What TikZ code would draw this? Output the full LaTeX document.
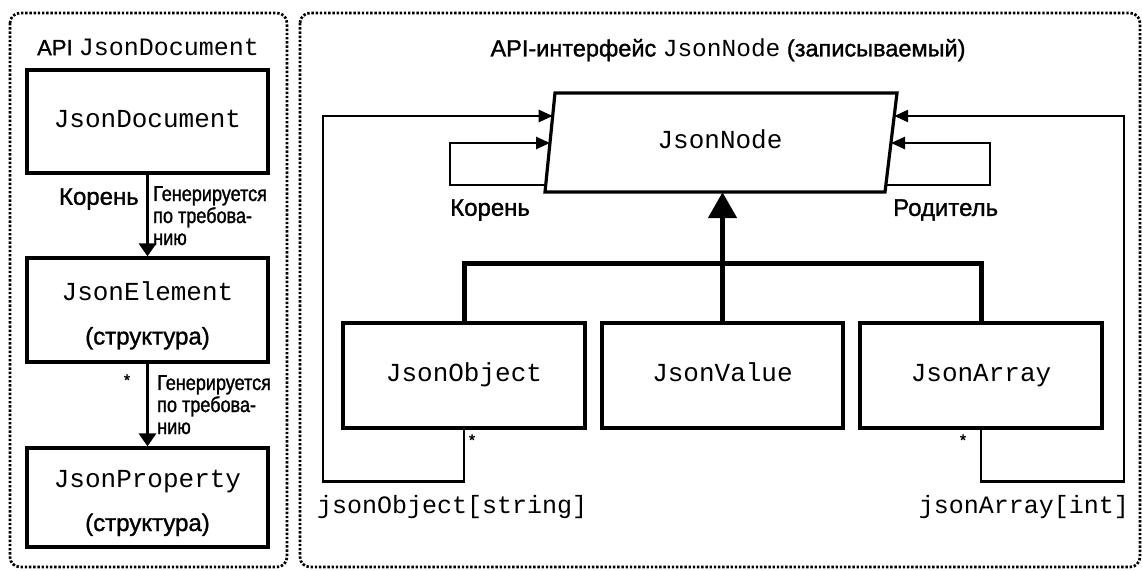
\documentclass[tikz,border=0pt]{standalone}
\usepackage{fontspec}
\setmainfont{Liberation Sans}[FakeBold=1.3]
\setsansfont{Liberation Sans}[FakeBold=1.3]
\setmonofont{Liberation Mono}
\newfontfamily\narrowsans{Liberation Sans}[FakeStretch=0.84,FakeBold=1.3]
\usetikzlibrary{arrows.meta}

\begin{document}
\begin{tikzpicture}[x=1pt,y=-1pt,
  panel/.style={draw=black, line width=2.7pt, dash pattern=on 2.4pt off 1.8pt, rounded corners=10pt},
  box/.style={draw=black, line width=3.2pt, inner sep=0pt, minimum width=241pt, align=center,
              font=\fontsize{24}{44}\selectfont},
  onebox/.style={box, font=\fontsize{26}{30}\selectfont\ttfamily, text height=17pt, text depth=5pt},
  mono/.style={font=\fontsize{25}{30}\selectfont\ttfamily, inner sep=0pt},
  lbl/.style={font=\fontsize{24}{28}\selectfont, inner sep=0pt},
  note/.style={font=\narrowsans\fontsize{21.5}{22}\selectfont, inner sep=0pt, align=left, anchor=north west},
  star/.style={font=\fontsize{16}{18}\selectfont, inner sep=0pt},
  conn/.style={line width=2.6pt, -{Triangle[length=14pt,width=12pt]}},
  down/.style={line width=3pt, -{Triangle[length=13pt,width=17pt]}},
  tree/.style={line width=5pt},
  inh/.style={line width=5pt, -{Triangle[length=26pt,width=28pt]}},
]
\useasboundingbox (0,0) rectangle (1142,570);

% ---------- left panel: JsonDocument API ----------
\draw[panel] (10,13) rectangle (287,567);
\node[inner sep=0pt] (ltitle) at (148,47)
  {\fontsize{22}{26}\selectfont API {\fontsize{25}{30}\selectfont\ttfamily JsonDocument}};

\node[onebox, minimum height=103pt] (jdoc) at (147.5,121.5) {JsonDocument};
\node[box, minimum height=104pt] (jelem) at (147.5,310)
  {\rule{0pt}{30pt}{\fontsize{26}{44}\selectfont\ttfamily JsonElement}\\(структура)};
\node[box, minimum height=99pt] (jprop) at (147.5,497.5)
  {\rule{0pt}{28pt}{\fontsize{26}{44}\selectfont\ttfamily JsonProperty}\\(структура)};

\draw[down] (jdoc.south) -- (jelem.north);
\draw[down] (jelem.south) -- (jprop.north);

\node[lbl, anchor=east] (lroot) at (139,199) {Корень};
\node[note] (gen1) at (153,186) {Генерируется\\по требова-\\нию};
\node[star] (lstar) at (127,380) {*};
\node[note] (gen2) at (157,375) {Генерируется\\по требова-\\нию};

% ---------- right panel: writable JsonNode API ----------
\draw[panel] (300,13) rectangle (1140,567);
\node[inner sep=0pt] (rtitle) at (728,50)
  {\fontsize{23.5}{26}\selectfont API-интерфейс {\fontsize{24.5}{30}\selectfont\ttfamily JsonNode} (записываемый)};

% JsonNode drawn as a slanted box
\draw[line width=3.2pt, line join=miter] (555,93) -- (897,93) -- (885,192) -- (545,192) -- cycle;
\node[inner sep=0pt, minimum width=340pt, minimum height=99pt, text height=17pt, text depth=5pt,
      font=\fontsize{26}{30}\selectfont\ttfamily] (jnode) at (720,142.5) {JsonNode};
\coordinate (inL1) at (552.7,116);
\coordinate (inL2) at (550,143);
\coordinate (rootOut) at (545.9,185);
\coordinate (inR1) at (894.2,116);
\coordinate (inR2) at (891,143);
\coordinate (parentOut) at (885.8,185);

\node[onebox, minimum width=242pt, minimum height=105pt] (jobj) at (464,375.5) {JsonObject};
\node[onebox, minimum height=105pt] (jval) at (722.5,375.5) {JsonValue};
\node[onebox, minimum width=242pt, minimum height=105pt] (jarr) at (981,375.5) {JsonArray};

% inheritance tree
\draw[tree] (jobj.north) -- ++(0,-58) -| (jarr.north);
\draw[inh] (jval.north) -- (jval.north |- jnode.south);

% self references of JsonNode
\draw[conn] (rootOut) -| (450,143) -- (inL2);
\draw[conn] (parentOut) -| (990,143) -- (inR2);
\node[lbl, anchor=west] (rroot) at (450,210) {Корень};
\node[lbl, anchor=west] (rparent) at (893,210) {Родитель};

% indexers back to JsonNode
\draw[conn] (jobj.south) -- ++(0,52) -- ++(-141,0) |- (inL1);
\draw[conn] (jarr.south) -- ++(0,52) -- ++(143,0) |- (inR1);
\node[star] (ostar) at (472,440) {*};
\node[star] (astar) at (963,440) {*};
\node[mono, anchor=west] (oidx) at (317,507) {jsonObject[string]};
\node[mono, anchor=east] (aidx) at (1129,507) {jsonArray[int]};
\end{tikzpicture}
\end{document}
